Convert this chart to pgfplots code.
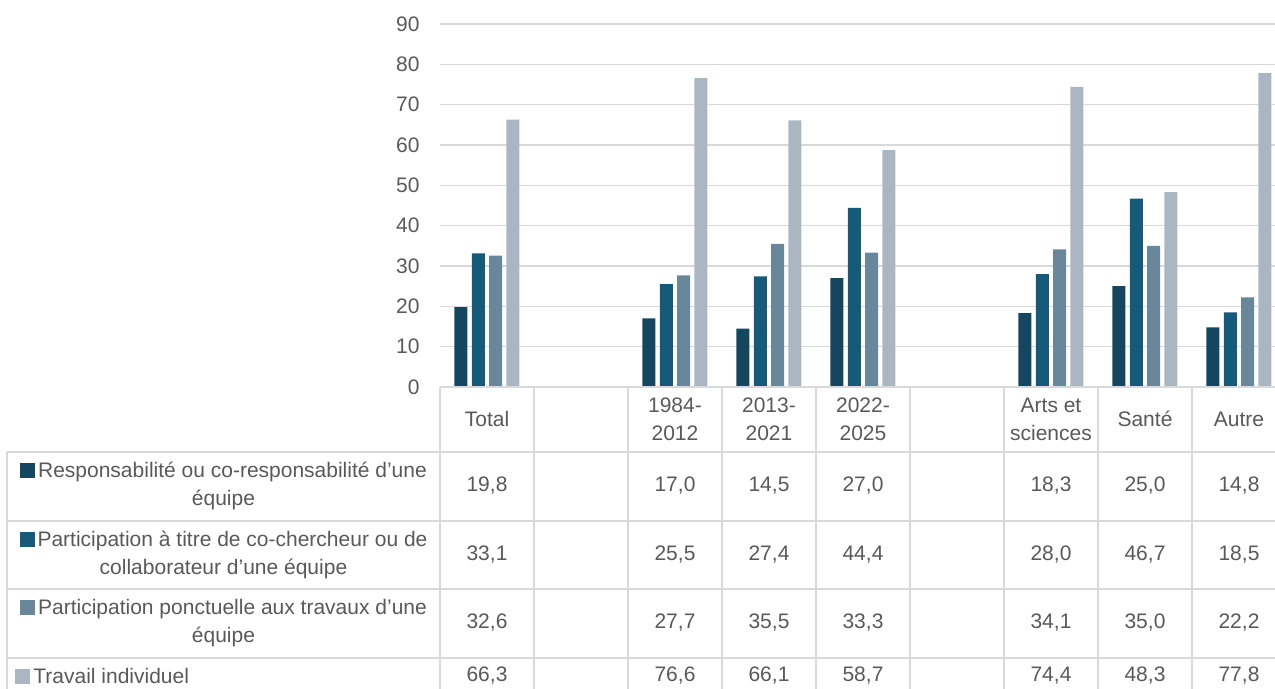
\documentclass[border=0pt]{standalone}
\usepackage{fontspec}
\setmainfont{Liberation Sans}
\usepackage{pgfplots}
\pgfplotsset{compat=1.18}
\definecolor{c1}{HTML}{144660}
\definecolor{c2}{HTML}{155A78}
\definecolor{c3}{HTML}{69879B}
\definecolor{c4}{HTML}{AAB7C3}
\definecolor{txt}{HTML}{595959}
\definecolor{gridc}{HTML}{D9D9D9}
\newcommand{\fs}{\fontsize{10.5}{14}\selectfont}
\newcommand{\key}[1]{\textcolor{#1}{\rule[-0.3pt]{7.5pt}{7.5pt}}\hspace{1.5pt}}
\begin{document}
\begin{tikzpicture}[font=\fs, text=txt]
\useasboundingbox (-220pt,-151pt) rectangle (417.5pt,193.5pt);
\clip (-220pt,-151pt) rectangle (417.5pt,193.5pt);
\begin{axis}[
  at={(0,0)}, anchor=south west,
  scale only axis, width=423pt, height=181.5pt,
  xmin=-0.5, xmax=8.5, ymin=0, ymax=90,
  ytick={0,10,...,90}, xtick=\empty,
  axis line style={draw=none}, major tick length=0pt,
  ymajorgrids, grid style={gridc, line width=0.7pt},
  /pgf/number format/assume math mode=true,
  yticklabel style={font=\fs, text=txt, anchor=east, inner sep=0pt, xshift=-10pt},
  ybar, bar width=6.5pt,
]
\addplot[fill=c1, draw=none, bar shift=-13pt] coordinates {(0,19.8) (2,17.0) (3,14.5) (4,27.0) (6,18.3) (7,25.0) (8,14.8)};
\addplot[fill=c2, draw=none, bar shift=-4.33pt] coordinates {(0,33.1) (2,25.5) (3,27.4) (4,44.4) (6,28.0) (7,46.7) (8,18.5)};
\addplot[fill=c3, draw=none, bar shift=4.33pt] coordinates {(0,32.6) (2,27.7) (3,35.5) (4,33.3) (6,34.1) (7,35.0) (8,22.2)};
\addplot[fill=c4, draw=none, bar shift=13pt] coordinates {(0,66.3) (2,76.6) (3,66.1) (4,58.7) (6,74.4) (7,48.3) (8,77.8)};
\end{axis}
% data table
\begin{scope}[gridc, line width=0.7pt]
\draw (0,0) -- (423pt,0);
\foreach \y in {-32.5,-67,-101,-135.5} \draw (-216.5pt,\y pt) -- (423pt,\y pt);
\foreach \k in {0,...,9} \draw (\k*47pt,0) -- (\k*47pt,-151pt);
\draw (-216.5pt,-32.5pt) -- (-216.5pt,-151pt);
\end{scope}
% header
\foreach \i/\t in {0/Total,2/{1984-\\2012},3/{2013-\\2021},4/{2022-\\2025},6/{Arts et\\sciences},7/Santé,8/Autre}
  \node[align=center, inner sep=0pt] at (23.5pt+\i*47pt,-16pt) {\t};
% rows
\foreach \i/\a/\b/\c/\d in {0/{19,8}/{33,1}/{32,6}/{66,3}, 2/{17,0}/{25,5}/{27,7}/{76,6}, 3/{14,5}/{27,4}/{35,5}/{66,1}, 4/{27,0}/{44,4}/{33,3}/{58,7}, 6/{18,3}/{28,0}/{34,1}/{74,4}, 7/{25,0}/{46,7}/{35,0}/{48,3}, 8/{14,8}/{18,5}/{22,2}/{77,8}}{
  \node[inner sep=0pt] at (23.5pt+\i*47pt,-49.5pt) {\a};
  \node[inner sep=0pt] at (23.5pt+\i*47pt,-84pt) {\b};
  \node[inner sep=0pt] at (23.5pt+\i*47pt,-118pt) {\c};
  \node[inner sep=0pt] at (23.5pt+\i*47pt,-144.5pt) {\d};
}
% legend column
\node[align=center, inner sep=0pt] at (-108.25pt,-49.5pt) {\key{c1}Responsabilité ou co-responsabilité d’une\\équipe};
\node[align=center, inner sep=0pt] at (-108.25pt,-84pt) {\key{c2}Participation à titre de co-chercheur ou de\\collaborateur d’une équipe};
\node[align=center, inner sep=0pt] at (-108.25pt,-118pt) {\key{c3}Participation ponctuelle aux travaux d’une\\équipe};
\node[anchor=west, inner sep=0pt] at (-212.5pt,-144.5pt) {\key{c4}Travail individuel};
\end{tikzpicture}
\end{document}
